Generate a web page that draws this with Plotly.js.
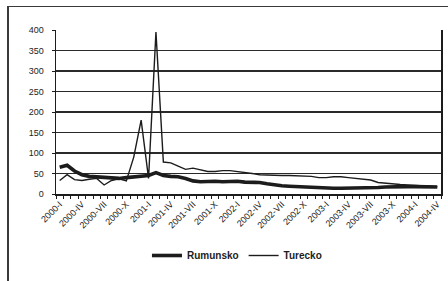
<!DOCTYPE html>
<html><head><meta charset="utf-8">
<script src="https://cdn.plot.ly/plotly-3.0.1.min.js"></script>
<style>
html,body{margin:0;padding:0;background:#fff;}
#frame{position:absolute;left:7px;top:6px;width:600px;height:400px;border-left:2px solid #3a3a3a;border-top:1.5px solid #3a3a3a;}
#chart{position:absolute;left:0;top:0;width:448px;height:281px;}
</style></head><body>
<div id="frame"></div>
<div id="chart"></div>
<script>
const categories = [
 "2000-I","2000-II","2000-III","2000-IV","2000-V","2000-VI","2000-VII","2000-VIII","2000-IX","2000-X","2000-XI","2000-XII",
 "2001-I","2001-II","2001-III","2001-IV","2001-V","2001-VI","2001-VII","2001-VIII","2001-IX","2001-X","2001-XI","2001-XII",
 "2002-I","2002-II","2002-III","2002-IV","2002-V","2002-VI","2002-VII","2002-VIII","2002-IX","2002-X","2002-XI","2002-XII",
 "2003-I","2003-II","2003-III","2003-IV","2003-V","2003-VI","2003-VII","2003-VIII","2003-IX","2003-X","2003-XI","2003-XII",
 "2004-I","2004-II","2004-III","2004-IV"];
const tickLabels = ["2000-I","2000-IV","2000-VII","2000-X","2001-I","2001-IV","2001-VII","2001-X","2002-I","2002-IV","2002-VII","2002-X","2003-I","2003-IV","2003-VII","2003-X","2004-I","2004-IV"];
const rumunsko = [65,70,56,47,43,42,41,40,38,40,42,44,
                  45,52,45,43,42,38,32,30,31,31,30,31,
                  31,29,29,28,25,22,20,19,18,16,15,14,
                  14,14,14,14,14,15,15,16,17,18,18,18,
                  18,17,17,17];
const turecko = [33,47,35,33,36,38,22,33,37,32,90,180,
                 38,395,78,76,68,60,63,59,55,55,57,57,
                 55,52,50,47,46,46,45,45,44,44,43,40,
                 40,42,42,40,38,36,34,28,26,24,23,22,
                 21,19,18,18];

const xIdx = categories.map((c,i)=>i);
const tickIdx = tickLabels.map(t=>categories.indexOf(t));
const ink = '#1c1c1c';
const font = {family:'"Liberation Sans", Arial, sans-serif', size:9, color:ink};

const traces = [
 {x:xIdx, y:rumunsko, name:'Rumunsko', type:'scatter', mode:'lines', line:{color:ink, width:3.6}},
 {x:xIdx, y:turecko, name:'Turecko', type:'scatter', mode:'lines', line:{color:ink, width:1.4}}
];

const layout = {
 width:448, height:281,
 margin:{l:56, r:6.5, t:30, b:86.5},
 paper_bgcolor:'rgba(0,0,0,0)', plot_bgcolor:'#fff',
 font:font,
 showlegend:true,
 legend:{orientation:'h', x:0.47, xanchor:'center', y:-0.375, yanchor:'middle',
         font:{family:'"Liberation Sans", Arial, sans-serif', size:10, color:ink, weight:'bold'},
         itemwidth:30, tracegroupgap:0, bgcolor:'rgba(0,0,0,0)'},
 xaxis:{type:'linear', range:[-0.5,51.5], tickvals:tickIdx, ticktext:tickLabels, tickangle:-45,
        ticks:'', showgrid:false, zeroline:false, showline:true, linecolor:ink, linewidth:1.5,
        tickfont:font,
        minor:{tick0:-0.5, dtick:1, ticks:'outside', ticklen:3, tickwidth:1, tickcolor:ink, showgrid:false}},
 xaxis2:{type:'linear', overlaying:'x', matches:'x', range:[-0.5,51.5], showticklabels:false, showgrid:false,
        zeroline:false, showline:false, ticks:'', side:'bottom',
        minor:{tick0:-0.5, dtick:1, ticks:'inside', ticklen:3, tickwidth:1, tickcolor:ink, showgrid:false}},
 yaxis:{range:[0,400], dtick:50, tick0:0, ticks:'outside', ticklen:3, tickcolor:ink, tickwidth:1,
        showgrid:true, gridcolor:'#2a2a2a', gridwidth:1.4, zeroline:false,
        showline:true, mirror:true, linecolor:ink, linewidth:1.5, tickfont:font, ticklabelstandoff:6}
};

Plotly.newPlot('chart', traces, layout, {displayModeBar:false, staticPlot:true});
</script>
</body></html>
